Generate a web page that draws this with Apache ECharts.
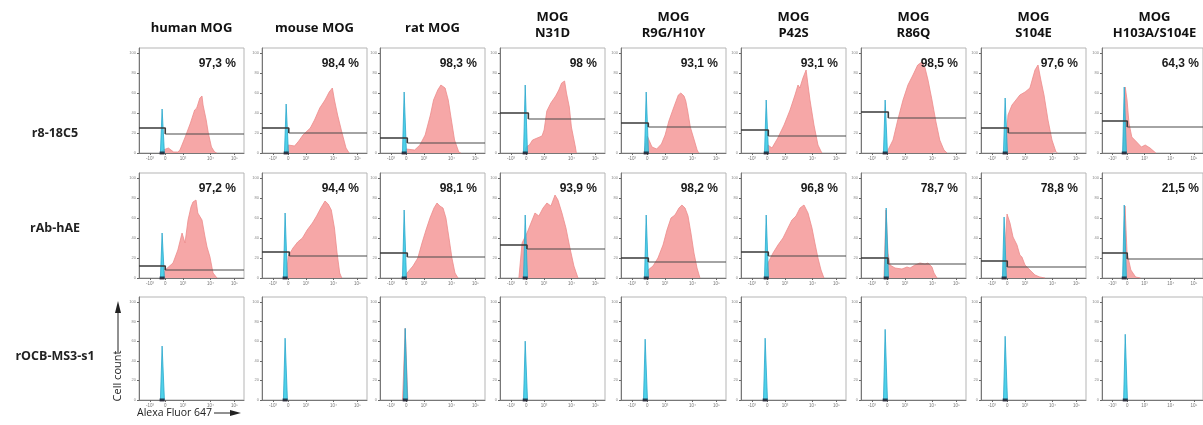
<!DOCTYPE html>
<html>
<head>
<meta charset="utf-8">
<script src="https://cdn.jsdelivr.net/npm/echarts@6/dist/echarts.min.js"></script>
<style>
  html, body { margin: 0; padding: 0; background: #fff; }
  #chart { width: 1203px; height: 425px; }
</style>
</head>
<body>
<div id="chart"></div>
<script>
// Flow cytometry overlays: antibody binding (red) vs. isotype control (cyan)
const antigens = ['human MOG', 'mouse MOG', 'rat MOG', 'MOG\nN31D', 'MOG\nR9G/H10Y',
  'MOG\nP42S', 'MOG\nR86Q', 'MOG\nS104E', 'MOG\nH103A/S104E'];
const antibodies = ['r8-18C5', 'rAb-hAE', 'rOCB-MS3-s1'];

// biexponential display channel (0-100) of the decade ticks
const xTickValues = [10.5, 25, 42, 68, 91];
const xTickLabels = ['-10³', '0', '10³', '10⁴', '10⁵'];
const yTickValues = [0, 20, 40, 60, 80, 100];

// % positive cells per antibody row and antigen column
const positivePercent = [
  [97.3, 98.4, 98.3, 98, 93.1, 93.1, 98.5, 97.6, 64.3],
  [97.2, 94.4, 98.1, 93.9, 98.2, 96.8, 78.7, 78.8, 21.5]
];

// marker gate: [boundary channel, left level, right level]
const gates = [
  [[25, 25, 19], [25.5, 25, 20], [26, 15, 10], [27, 40, 34], [26, 30, 26],
   [26, 23, 17], [26, 41, 35], [26, 25, 20], [25, 32, 26]],
  [[25, 12, 8], [26, 26, 22], [26, 25, 21], [25.7, 33, 29], [26, 20, 16],
   [26, 26, 22], [25.7, 20, 14], [25, 17, 11], [25, 25, 19]]
];

// isotype control peak: [channel, % of max]
const controlPeaks = [
  [[22, 44], [23, 49], [23, 61], [24, 68], [24, 61], [24, 53], [23, 53], [23, 55], [22, 66]],
  [[22, 45], [22, 65], [23, 68], [24, 63], [24, 63], [24, 63], [24, 70], [22, 61], [22, 73]],
  [[22, 55], [22, 63], [24, 73], [24, 60], [23, 62], [23, 63], [23, 72], [23, 65], [23, 67]]
];

// stained sample histograms: [channel, % of max]
const r8_18C5 = [
  [[21,0],[23,3],[28,5],[33,1],[37,1],[39,3],[44,16],[49,30],[53,43],[55,45],[58,55],[60,57],[61,48],[64,33],[66,20],[69,6],[72,1],[74,0]],
  [[23,0],[25,8],[31,7],[35,12],[39,18],[46,25],[50,33],[55,45],[60,53],[64,61],[67,65],[69,53],[72,38],[76,21],[80,5],[83,0]],
  [[23,0],[25,4],[33,3],[38,8],[43,18],[48,38],[51,53],[55,63],[58,68],[62,65],[65,53],[68,33],[71,13],[75,1],[77,0]],
  [[23,0],[25,6],[28,8],[31,13],[40,17],[42,23],[44.6,42],[48.4,50],[53,57],[56,63],[58.7,70],[61.5,72],[63.3,60],[66,46],[68,26],[71.8,6],[72.7,0]],
  [[22,0],[25,17],[29.5,6],[34,4],[38.5,9],[42,18],[45.6,32],[50,45],[54.6,58],[57,60],[60,57],[61.7,52],[63.5,42],[66,26],[70,12],[72.5,3],[74,0]],
  [[24,0],[25.7,8],[29.5,5],[35,15],[41,28],[46.7,43],[51.4,58],[54.3,68],[56,65],[59,75],[62,83],[63.8,68],[65.7,53],[69.5,28],[73.3,8],[77,0]],
  [[24,0],[25.7,3],[30.5,13],[35,33],[40,53],[44.7,68],[49.5,78],[54,88],[58,91],[61,85],[63.8,73],[67.6,53],[71.4,31],[75,13],[79,3],[82,0]],
  [[23,0],[25.7,38],[29.5,48],[33.3,53],[37,58],[42,61],[46.6,65],[51.4,83],[54.3,88],[57,73],[60,58],[63.8,33],[67.6,13],[71.4,1],[73,0]],
  [[21,0],[23,66],[24.8,53],[26.7,30],[29.5,16],[34.3,11],[39,6],[42.8,8],[47.6,5],[53.3,0]]
];
const rAb_hAE = [
  [[23,0],[24.8,8],[26.7,8],[32.4,15],[37,28],[41,45],[43.8,35],[46.7,58],[49.5,71],[51.4,76],[54.3,78],[56,65],[60,58],[62.9,41],[64.8,31],[67.6,21],[70.5,5],[74.3,0]],
  [[23,0],[25,22],[29.5,30],[34,36],[38.5,40],[43,48],[48,55],[52,62],[56,70],[60,77],[63,74],[66,68],[69,50],[71.5,25],[74,5],[76,0]],
  [[23,0],[25.7,5],[31.4,12],[36,20],[40,35],[43.8,48],[47.6,60],[51.4,70],[54.3,75],[57,72],[60,70],[62.8,60],[65.7,40],[68.5,20],[71.4,5],[74.3,0]],
  [[18,0],[21,35],[25.7,45],[29.5,55],[33.3,65],[37,62],[41,70],[44.7,75],[48.5,72],[52.4,83],[55.2,78],[59,65],[62.8,50],[66.6,30],[70.4,12],[74.3,0]],
  [[23,0],[25.7,8],[30.5,12],[35.2,20],[40,33],[43.8,48],[47.6,60],[51.4,63],[55.2,70],[58,73],[61,70],[63.8,62],[66.6,45],[69.5,25],[72.4,10],[75.2,0]],
  [[23,0],[25.7,15],[30.5,25],[35.2,33],[40,40],[44.7,50],[48.5,58],[52.4,62],[56.2,70],[60,73],[63.8,65],[67.6,50],[70.4,35],[73.3,20],[76.2,8],[79,0]],
  [[21.9,0],[23.8,68],[25.7,25],[27.6,13],[32.4,10],[39,9],[43.8,11],[46.7,10],[51.4,13],[56.2,15],[61,14],[63.8,15],[67.6,11],[69.5,5],[72.4,0]],
  [[21,0],[24.8,64],[27.6,55],[30.5,41],[34.3,33],[37,23],[39,21],[41.9,13],[46.6,8],[51.4,3],[56,1],[61,0]],
  [[21,0],[22.8,72],[24.8,25],[28.6,8],[33.3,1],[38,0]]
];
const rOCB_MS3_s1 = [
  [], [], [[21.5,0],[24,73],[26.5,0]], [], [], [], [], [], []
];
const samples = [r8_18C5, rAb_hAE, rOCB_MS3_s1];

// ---- layout ----
const colLeft = [139, 262, 380, 500, 621, 741, 861, 981, 1102];
const rowTop = [48, 173, 297];
const rowHeight = [105, 105, 103];
const boxW = 105;
const FONT = '"Open Sans", "Noto Sans", sans-serif';

const grids = [], xAxes = [], yAxes = [], series = [], graphics = [];

antibodies.forEach((ab, r) => {
  antigens.forEach((ag, c) => {
    const k = grids.length;
    grids.push({
      left: colLeft[c], top: rowTop[r], width: boxW, height: rowHeight[r],
      show: true, borderColor: '#b5b5b5', borderWidth: 1, backgroundColor: '#fff'
    });
    xAxes.push({
      gridIndex: k, type: 'value', min: 0, max: 100,
      axisLine: { show: true, lineStyle: { color: '#777', width: 1 } },
      axisTick: { show: true, customValues: xTickValues, length: 2, lineStyle: { color: '#666' } },
      axisLabel: {
        show: true, customValues: xTickValues, fontSize: 4.5, color: '#777', margin: 3,
        formatter: v => xTickLabels[xTickValues.indexOf(v)] || ''
      },
      splitLine: { show: false }
    });
    yAxes.push({
      gridIndex: k, type: 'value', min: 0, max: 105,
      axisLine: { show: true, lineStyle: { color: '#777', width: 1 } },
      axisTick: { show: true, customValues: yTickValues, length: 2, lineStyle: { color: '#666' } },
      axisLabel: { show: true, customValues: yTickValues, fontSize: 4, color: '#888', margin: 3 },
      splitLine: { show: false }
    });

    const sample = samples[r][c];
    if (sample.length) {
      series.push({
        type: 'line', xAxisIndex: k, yAxisIndex: k, data: sample, symbol: 'none',
        lineStyle: { color: '#ec8b8b', width: 0.8 },
        areaStyle: { color: '#f6a7a7', opacity: 1 }, z: 2, silent: true
      });
    }

    const [px, ph] = controlPeaks[r][c];
    series.push({
      type: 'line', xAxisIndex: k, yAxisIndex: k, symbol: 'none',
      data: [[px - 1.6, 0], [px, ph], [px + 2.2, 0]],
      lineStyle: { color: '#2aa6cc', width: 0.8 },
      areaStyle: { color: 'rgba(40,200,228,0.82)', opacity: 1 }, z: 3, silent: true
    });
    // event marker on the axis at the control position
    series.push({
      type: 'scatter', xAxisIndex: k, yAxisIndex: k, data: [[px, 0]],
      symbol: 'rect', symbolSize: [5, 3], itemStyle: { color: '#1a1a2a' }, z: 4, silent: true
    });

    if (r < 2) {
      const [g, lv, rv] = gates[r][c];
      series.push({
        type: 'line', xAxisIndex: k, yAxisIndex: k, symbol: 'none',
        data: [[0, lv], [g, lv], [g, rv]],
        lineStyle: { color: '#3a3a3a', width: 1.6 }, z: 5, silent: true
      });
      series.push({
        type: 'line', xAxisIndex: k, yAxisIndex: k, symbol: 'none',
        data: [[g, rv], [100, rv]],
        lineStyle: { color: '#4a4a4a', width: 1.2 }, z: 5, silent: true
      });
      const pct = String(positivePercent[r][c]).replace('.', ',') + ' %';
      graphics.push({
        type: 'text', x: colLeft[c] + boxW - 8, y: rowTop[r] + 16, z: 10,
        style: { text: pct, font: 'bold 12px "Liberation Sans", Arial, sans-serif', fill: '#1a1a1a',
          align: 'right', verticalAlign: 'middle', textAlign: 'right', textVerticalAlign: 'middle' }
      });
    }
  });
});

// column headers
antigens.forEach((ag, c) => {
  const twoLine = ag.indexOf('\n') >= 0;
  graphics.push({
    type: 'text', x: colLeft[c] + boxW / 2, y: twoLine ? 25 : 28,
    style: { text: ag, font: 'bold 13px ' + FONT, fill: '#111', lineHeight: 16,
      align: 'center', verticalAlign: 'middle', textAlign: 'center', textVerticalAlign: 'middle' }
  });
});

// row labels
const rowLabelY = [133, 228, 356];
antibodies.forEach((ab, r) => {
  graphics.push({
    type: 'text', x: 55, y: rowLabelY[r],
    style: { text: ab, font: 'bold 12.5px ' + FONT, fill: '#222',
      align: 'center', verticalAlign: 'middle', textAlign: 'center', textVerticalAlign: 'middle' }
  });
});

// axis captions with arrows
graphics.push({
  type: 'text', x: 118, y: 376, rotation: Math.PI / 2,
  style: { text: 'Cell count', font: '11px ' + FONT, fill: '#222',
    align: 'center', verticalAlign: 'middle', textAlign: 'center', textVerticalAlign: 'middle' }
});
graphics.push({ type: 'line', shape: { x1: 118, y1: 352, x2: 118, y2: 312 }, style: { stroke: '#222', lineWidth: 1 } });
graphics.push({ type: 'polygon', shape: { points: [[118, 301], [115, 313], [121, 313]] }, style: { fill: '#222' } });

graphics.push({
  type: 'text', x: 137, y: 413,
  style: { text: 'Alexa Fluor 647', font: '10.5px ' + FONT, fill: '#222',
    align: 'left', verticalAlign: 'middle', textAlign: 'left', textVerticalAlign: 'middle' }
});
graphics.push({ type: 'line', shape: { x1: 214, y1: 413, x2: 232, y2: 413 }, style: { stroke: '#222', lineWidth: 1 } });
graphics.push({ type: 'polygon', shape: { points: [[241, 413], [230, 410], [230, 416]] }, style: { fill: '#222' } });

const chart = echarts.init(document.getElementById('chart'), null, { renderer: 'canvas' });
chart.setOption({
  animation: false,
  backgroundColor: '#fff',
  grid: grids,
  xAxis: xAxes,
  yAxis: yAxes,
  series: series,
  graphic: graphics
});
</script>
</body>
</html>
